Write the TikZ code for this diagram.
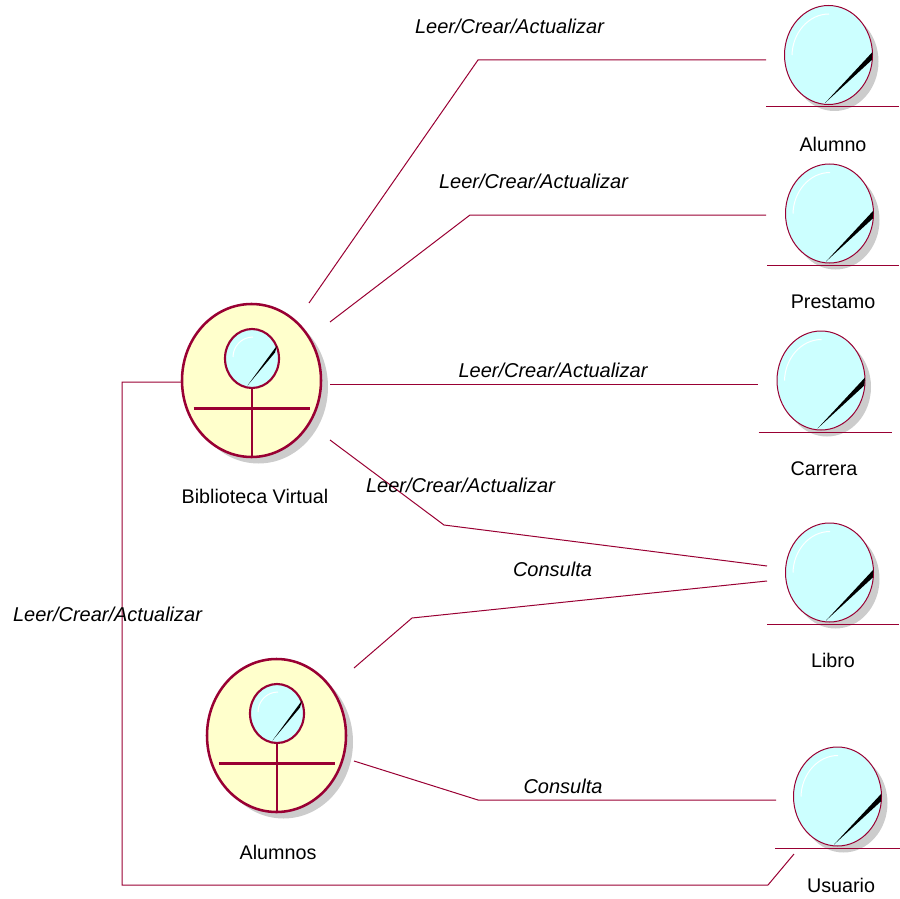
\documentclass[tikz,border=0pt]{standalone}
\usepackage{fontspec}
\setmainfont{Liberation Sans}
\usetikzlibrary{shapes.geometric}
\definecolor{rose}{HTML}{990033}
\definecolor{entfill}{HTML}{CCFFFF}
\definecolor{actfill}{HTML}{FFFFCC}
\definecolor{shade}{HTML}{CCCCCC}
\tikzset{
  link/.style={draw=rose,line width=0.75pt},
  entshape/.style={ellipse,inner sep=0pt,minimum width=66pt,minimum height=74.25pt,draw=rose,line width=0.75pt,fill=entfill},
  entshadow/.style={ellipse,inner sep=0pt,minimum width=66pt,minimum height=74.25pt,fill=shade},
  actshape/.style={ellipse,inner sep=0pt,minimum width=104.25pt,minimum height=114.75pt,draw=rose,line width=1.9pt,fill=actfill},
  actshadow/.style={ellipse,inner sep=0pt,minimum width=104.25pt,minimum height=114.75pt,fill=shade},
  headshape/.style={ellipse,inner sep=0pt,minimum width=40.5pt,minimum height=44.25pt,draw=rose,line width=1.6pt,fill=entfill},
  bar/.style={draw=rose,line width=1.7pt},
  glint/.style={draw=white,line width=0.75pt},
  caption/.style={font=\fontsize{14.8pt}{17pt}\selectfont,inner sep=0pt},
  role/.style={font=\fontsize{15pt}{17pt}\selectfont\itshape,inner sep=0pt}
}
\newcommand{\entityicon}[7]{%
  \begin{scope}[shift={(#2,#3)}]
    \node[entshadow] at (6,6.5) {};
    \node[entshape] (#1) at (0,0) {};
    \fill[black] (-3.5,48) -- (44,-3) -- (43.3,5) -- cycle;
    \draw[glint] (-36.5,0) .. controls (-36,-22) and (-20,-41) .. (0.5,-41);
  \end{scope}
  \draw[link] ([shift={(-62.5,52)}]#1.center) -- ([shift={(#6,52)}]#1.center);
  \node[caption] (#1label) at (#4,#5) {#7};
}
\newcommand{\actoricon}[6]{%
  \begin{scope}[shift={(#2,#3)}]
    \node[actshadow] at (7,6.5) {};
    \node[actshape] (#1) at (0,0) {};
    \node[headshape] (#1head) at (0.5,-22) {};
    \fill[black] (-4,5) -- (25.5,-35) -- (23.5,-28) -- cycle;
    \draw[glint] (-18.5,-23.5) .. controls (-18.5,-34) and (-10,-43.5) .. (1.5,-43.5);
    \draw[bar] (-58,28) -- (58.5,28);
    \draw[bar] (0.5,7.5) -- (0.5,76.5);
  \end{scope}
  \node[caption] (#1label) at (#4,#5) {#6};
}
\begin{document}
\begin{tikzpicture}[x=0.75pt,y=-0.75pt]
\useasboundingbox (0,0) rectangle (900,899);
\entityicon{alumno}{828.5}{55}{833}{144.5}{70.5}{Alumno}
\entityicon{prestamo}{829.5}{213.5}{833}{301.5}{69.5}{Prestamo}
\entityicon{carrera}{821}{380.5}{824}{468.5}{71}{Carrera}
\entityicon{libro}{829.5}{572.5}{833}{660.5}{69.5}{Libro}
\entityicon{usuario}{837.5}{796.5}{841}{885.5}{62.5}{Usuario}
\actoricon{bib}{251.5}{380.5}{255}{496.5}{Biblioteca Virtual}
\actoricon{alu}{276.5}{735.5}{278}{852.5}{Alumnos}
\path[link] ([shift={(57.5,-77.5)}]bib.center) -- (478,60) -- ([shift={(-62.5,5)}]alumno.center);
\path[link] ([shift={(78.5,-58.5)}]bib.center) -- (470,215) -- ([shift={(-63.5,1.5)}]prestamo.center);
\path[link] ([shift={(78.5,3.5)}]bib.center) -- ([shift={(-63,3.5)}]carrera.center);
\path[link] ([shift={(78.5,59.5)}]bib.center) -- (444,525) -- ([shift={(-62.5,-6.5)}]libro.center);
\path[link] ([shift={(77.5,-67.5)}]alu.center) -- (412,618) -- ([shift={(-62.5,8.5)}]libro.center);
\path[link] ([shift={(77.5,25.5)}]alu.center) -- (478,800) -- ([shift={(-61.5,3.5)}]usuario.center);
\path[link] ([shift={(-70.5,1.5)}]bib.center) -- (122,382) -- (122,885) -- (768,885) -- ([shift={(-43.5,57.5)}]usuario.center);
\node[role] (r1) at (509.5,26.5) {Leer/Crear/Actualizar};
\node[role] (r2) at (533.5,181.5) {Leer/Crear/Actualizar};
\node[role] (r3) at (553,370.5) {Leer/Crear/Actualizar};
\node[role] (r4) at (460.5,485.5) {Leer/Crear/Actualizar};
\node[role] (r5) at (552.5,569.5) {Consulta};
\node[role] (r6) at (563,786.5) {Consulta};
\node[role] (r7) at (107.5,614.5) {Leer/Crear/Actualizar};
\end{tikzpicture}
\end{document}
